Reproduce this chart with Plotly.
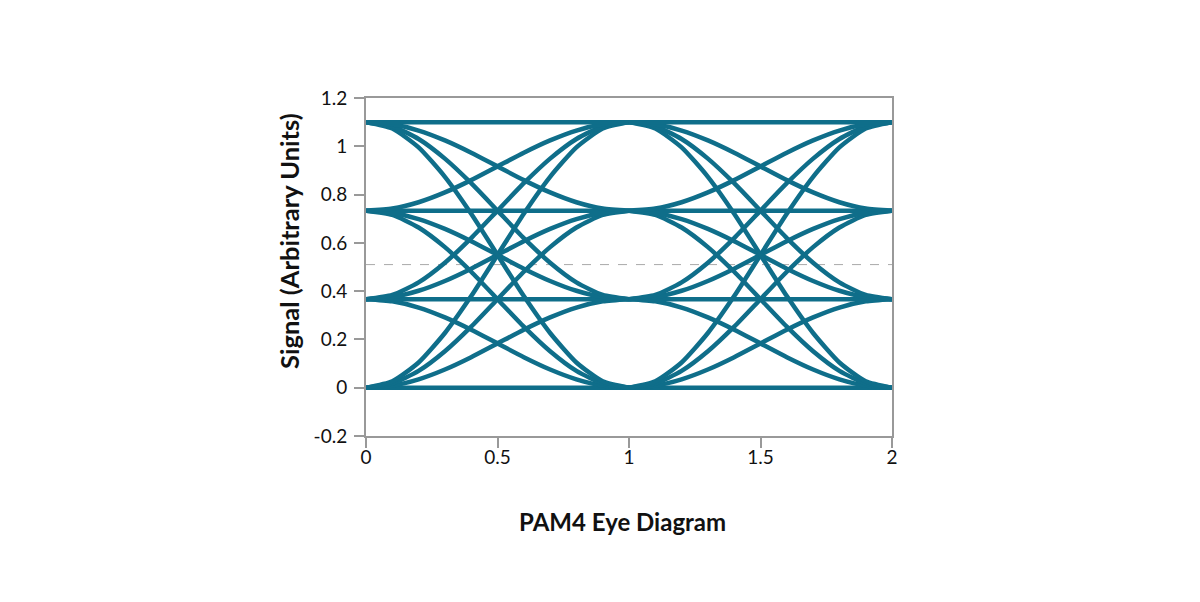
import plotly.graph_objects as go

# PAM4 signal levels
levels = [0.0, 0.3667, 0.7333, 1.1]
# unit intervals drawn (start positions)
ui_starts = [0.0, 1.0]
# normalized transition profile (fraction of step completed)
profile_t = [0.0, 0.1, 0.2, 0.3, 0.4, 0.5, 0.6, 0.7, 0.8, 0.9, 1.0]
profile_v = [0.0, 0.024, 0.095, 0.206, 0.345, 0.5, 0.655, 0.794, 0.905, 0.976, 1.0]
threshold = 0.51

x_ticks = [0, 0.5, 1, 1.5, 2]
x_ticktext = ["0", "0.5", "1", "1.5", "2"]
y_ticks = [-0.2, 0, 0.2, 0.4, 0.6, 0.8, 1.0, 1.2]
y_ticktext = ["-0.2", "0", "0.2", "0.4", "0.6", "0.8", "1", "1.2"]

x_title = "PAM4 Eye Diagram"
y_title = "Signal (Arbitrary Units)"

color = "#0f6e8a"
font = "Lato"

fig = go.Figure()
for s in ui_starts:
    for a in levels:
        for b in levels:
            xs = [s + t for t in profile_t]
            ys = [a + (b - a) * p for p in profile_v]
            fig.add_trace(go.Scatter(
                x=xs, y=ys, mode="lines",
                line=dict(color=color, width=4.5, shape="spline", smoothing=0.6),
                hoverinfo="skip", showlegend=False))

fig.add_shape(type="line", xref="x", yref="y", x0=0, x1=2, y0=threshold, y1=threshold,
              line=dict(color="#aaaaaa", width=1, dash="dash"), layer="below")

axis_common = dict(showline=True, linecolor="#999999", linewidth=2, mirror=True,
                   ticks="outside", tickcolor="#999999", ticklen=10, tickwidth=2,
                   showgrid=False, zeroline=False,
                   tickfont=dict(family=font, size=19, color="#111111"))

fig.update_layout(
    width=1200, height=602,
    paper_bgcolor="white", plot_bgcolor="white",
    margin=dict(l=358, r=316, t=90, b=174),
    xaxis=dict(range=[0, 2], tickvals=x_ticks, ticktext=x_ticktext,
               ticklabelstandoff=-7, **axis_common),
    yaxis=dict(range=[-0.2, 1.2], tickvals=y_ticks, ticktext=y_ticktext,
               ticklabelstandoff=3, **axis_common),
    annotations=[
        dict(text="<b>" + x_title + "</b>", xref="paper", yref="paper",
             x=(622 - 366) / 526, y=-(520 - 435) / 338, xanchor="center", yanchor="middle",
             showarrow=False, font=dict(family=font, size=24, color="#111111")),
        dict(text="<b>" + y_title + "</b>", xref="paper", yref="paper",
             x=-(366 - 289) / 526, y=(435 - 240) / 338, xanchor="center", yanchor="middle",
             textangle=-90, showarrow=False,
             font=dict(family=font, size=25.5, color="#111111")),
    ],
)

fig.write_html("out.html")
